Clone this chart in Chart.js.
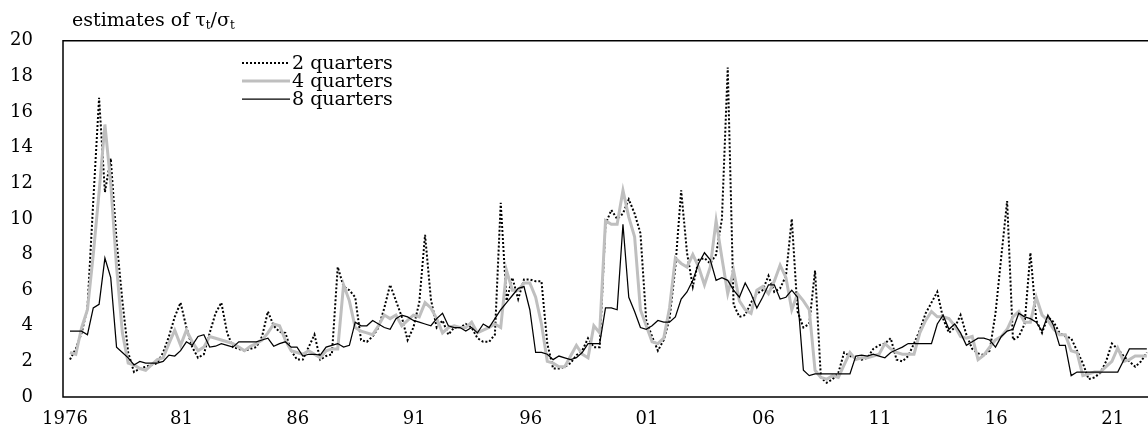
<!DOCTYPE html>
<html>
<head>
<meta charset="utf-8">
<script src="https://cdn.jsdelivr.net/npm/chart.js@4.4.1/dist/chart.umd.min.js"></script>
<style>
html, body { margin: 0; padding: 0; background: #fff; overflow: hidden; }
#wrap { width: 1148px; height: 445px; }
</style>
</head>
<body>
<div id="wrap"><canvas id="myChart" width="1148" height="445"></canvas></div>
<script>
// quarterly observations, 1976Q1 onwards
var firstYear = 1976;
var tickLabels = ['1976', '81', '86', '91', '96', '01', '06', '11', '16', '21'];
var seriesNames = ['2 quarters', '4 quarters', '8 quarters'];

var twoQuarters = [
    2.1, 2.7, 3.6, 5.0, 11.0, 16.8, 11.5, 13.4, 8.8, 5.4,
    2.5, 1.4, 1.6, 1.7, 1.8, 1.9, 2.5, 3.4, 4.5, 5.3,
    3.9, 2.8, 2.2, 2.4, 3.6, 4.7, 5.3, 3.6, 2.8, 2.7,
    2.6, 2.7, 2.8, 3.4, 4.8, 4.0, 3.65, 3.6, 2.6, 2.1,
    2.1, 2.8, 3.5, 2.1, 2.3, 2.4, 7.3, 6.2, 6.0, 5.6,
    3.2, 3.1, 3.4, 3.9, 5.0, 6.3, 5.4, 4.5, 3.2, 3.9,
    5.3, 9.1, 5.5, 3.9, 4.3, 3.5, 3.9, 3.9, 4.1, 3.9,
    3.3, 3.1, 3.1, 3.5, 10.9, 5.4, 6.7, 5.5, 6.6, 6.6,
    6.5, 6.5, 3.0, 1.6, 1.6, 1.7, 1.9, 2.35, 2.6, 3.3,
    2.8, 2.8, 9.7, 10.5, 10.0, 10.3, 11.1, 10.3, 9.2, 4.3,
    3.4, 2.6, 3.2, 4.4, 7.3, 11.6, 8.1, 6.2, 7.7, 7.8,
    7.5, 8.0, 10.0, 18.5, 5.2, 4.5, 4.6, 5.3, 5.8, 6.0,
    6.8, 5.9, 6.1, 6.8, 10.0, 4.8, 3.9, 4.1, 7.1, 1.1,
    0.8, 1.0, 1.35, 2.5, 2.3, 2.2, 2.1, 2.2, 2.7, 2.9,
    3.0, 3.3, 2.1, 2.0, 2.3, 3.0, 3.75, 4.7, 5.3, 5.9,
    4.4, 3.6, 3.9, 4.6, 3.5, 2.7, 2.45, 2.35, 2.6, 4.7,
    7.9, 11.0, 3.2, 3.4, 4.1, 8.1, 4.3, 3.6, 4.5, 4.2,
    3.6, 3.4, 3.3, 2.6, 1.9, 1.0, 1.1, 1.35, 2.0, 3.0,
    2.7, 2.3, 2.0, 1.7, 2.0, 2.5
];

var fourQuarters = [
    2.5, 2.4, 3.9, 4.9, 8.0, 11.5, 15.3, 12.0, 7.3, 3.6,
    1.9, 1.8, 1.6, 1.5, 1.8, 2.1, 2.2, 3.0, 3.75, 2.9,
    3.75, 3.1, 2.6, 2.8, 3.4, 3.3, 3.2, 3.1, 3.0, 2.8,
    2.6, 2.85, 3.0, 3.2, 3.6, 4.1, 4.0, 3.2, 2.6, 2.5,
    2.4, 2.6, 2.4, 2.2, 2.6, 2.7, 2.7, 6.3, 5.4, 3.9,
    3.7, 3.6, 3.5, 4.0, 4.6, 4.4, 4.6, 4.0, 4.3, 4.6,
    4.5, 5.3, 5.0, 4.4, 3.6, 3.9, 4.0, 3.9, 3.9, 4.2,
    3.6, 3.75, 3.9, 4.1, 3.9, 7.1, 6.0, 6.0, 6.4, 6.4,
    5.6, 4.1, 2.0, 1.9, 1.7, 1.7, 2.3, 2.9, 2.4, 2.2,
    4.0, 3.6, 9.9, 9.7, 9.7, 11.6, 10.1, 9.0, 4.9, 4.0,
    3.1, 3.0, 3.3, 5.0, 7.8, 7.5, 7.3, 8.0, 7.3, 6.3,
    7.3, 9.9, 7.8, 5.8, 7.1, 5.4, 4.9, 4.7, 6.0, 6.2,
    5.8, 6.5, 7.4, 6.7, 4.9, 5.8, 5.4, 4.9, 1.5, 1.1,
    1.0, 1.2, 1.1, 1.8, 2.5, 2.1, 2.2, 2.2, 2.3, 2.4,
    3.0, 2.7, 2.5, 2.4, 2.4, 2.4, 3.6, 4.3, 4.8, 4.5,
    4.5, 4.4, 4.0, 3.4, 3.3, 3.4, 2.1, 2.35, 2.8, 3.2,
    3.4, 3.8, 4.5, 4.8, 4.2, 4.2, 5.6, 4.6, 4.3, 3.8,
    3.5, 3.5, 2.6, 2.5, 1.2, 1.3, 1.4, 1.4, 1.7, 2.0,
    2.75, 2.0, 2.1, 2.3, 2.3, 2.3
];

var eightQuarters = [
    3.7, 3.7, 3.7, 3.5, 5.0, 5.2, 7.8, 6.7, 2.8, 2.5,
    2.2, 1.8, 2.0, 1.9, 1.9, 1.9, 2.0, 2.35, 2.3, 2.6,
    3.1, 2.9, 3.4, 3.5, 2.8, 2.85, 3.0, 2.9, 2.8, 3.1,
    3.1, 3.1, 3.1, 3.2, 3.3, 2.85, 3.0, 3.1, 2.8, 2.8,
    2.3, 2.4, 2.4, 2.35, 2.8, 2.9, 3.0, 2.8, 2.9, 4.2,
    4.0, 4.0, 4.3, 4.1, 3.9, 3.8, 4.4, 4.6, 4.5, 4.3,
    4.2, 4.1, 4.0, 4.4, 4.7, 4.0, 3.9, 3.9, 3.7, 3.9,
    3.6, 4.1, 3.9, 4.4, 4.9, 5.3, 5.7, 6.1, 6.2, 4.9,
    2.5, 2.5, 2.4, 2.1, 2.3, 2.2, 2.1, 2.2, 2.5, 3.0,
    3.0, 3.0, 5.0, 5.0, 4.9, 9.7, 5.6, 4.8, 3.9, 3.8,
    4.0, 4.3, 4.2, 4.2, 4.5, 5.5, 5.9, 6.55, 7.5, 8.1,
    7.7, 6.55, 6.7, 6.55, 6.0, 5.6, 6.4, 5.8, 5.0, 5.6,
    6.3, 6.3, 5.5, 5.6, 6.0, 5.6, 1.5, 1.2, 1.3, 1.3,
    1.3, 1.3, 1.3, 1.3, 1.3, 2.3, 2.35, 2.3, 2.4, 2.3,
    2.2, 2.5, 2.65, 2.8, 3.0, 3.0, 3.0, 3.0, 3.0, 4.1,
    4.6, 3.8, 4.1, 3.6, 2.9, 3.1, 3.3, 3.3, 3.2, 2.8,
    3.4, 3.7, 3.8, 4.7, 4.5, 4.4, 4.2, 3.7, 4.6, 4.0,
    2.9, 2.9, 1.2, 1.4, 1.4, 1.4, 1.4, 1.4, 1.4, 1.4,
    1.4, 2.05, 2.7, 2.7, 2.7, 2.7
];

var serif = "'DejaVu Serif', 'Liberation Serif', serif";

// quarter index of every tick label (Q1 of the labelled year)
var tickIndex = tickLabels.map(function(t) {
    var yr = t.length === 4 ? +t : (+t < 50 ? 2000 + +t : 1900 + +t);
    return (yr - firstYear) * 4;
});

function toPoints(arr) {
    return arr.map(function(v, i) { return { x: i, y: v }; });
}

var framePlugin = {
    id: 'frame',
    afterDraw: function(chart) {
        var c = chart.ctx, a = chart.chartArea;
        c.save();
        c.strokeStyle = '#000';
        c.lineWidth = 1.5;
        c.beginPath();
        c.moveTo(chart.width + 2, a.top);
        c.lineTo(a.left, a.top);
        c.lineTo(a.left, a.bottom);
        c.lineTo(chart.width + 2, a.bottom);
        c.stroke();

        // title with subscripts
        c.fillStyle = '#000';
        c.textBaseline = 'alphabetic';
        var x = 72, y = 26;
        var big = '19px ' + serif, small = '12px ' + serif;
        var parts = [['estimates of \u03c4', big, 0], ['t', small, 3], ['/\u03c3', big, 0], ['t', small, 3]];
        parts.forEach(function(p) {
            c.font = p[1];
            c.fillText(p[0], x, y + p[2]);
            x += c.measureText(p[0]).width;
        });

        // legend inside the plot
        var rows = [63, 81, 99];
        chart.data.datasets.forEach(function(ds, k) {
            var ly = rows[k];
            c.save();
            c.strokeStyle = ds.borderColor;
            c.lineWidth = ds.borderWidth;
            c.setLineDash(ds.borderDash || []);
            c.beginPath();
            c.moveTo(242, ly);
            c.lineTo(290, ly);
            c.stroke();
            c.restore();
            c.font = '19px ' + serif;
            c.textBaseline = 'middle';
            c.fillText(ds.label, 292, ly + 1);
        });
        c.restore();
    }
};

var ctx = document.getElementById('myChart').getContext('2d');
var myChart = new Chart(ctx, {
    type: 'line',
    data: {
        datasets: [{
            label: seriesNames[0],
            data: toPoints(twoQuarters),
            borderColor: '#000000',
            borderWidth: 2,
            borderDash: [2, 2],
            order: 3
        }, {
            label: seriesNames[1],
            data: toPoints(fourQuarters),
            borderColor: '#bfbfbf',
            borderWidth: 3,
            order: 2
        }, {
            label: seriesNames[2],
            data: toPoints(eightQuarters),
            borderColor: '#000000',
            borderWidth: 1.25,
            order: 1
        }]
    },
    options: {
        responsive: false,
        animation: false,
        layout: { padding: { top: 40, right: 0, left: 0, bottom: 0 } },
        elements: {
            point: { radius: 0 },
            line: { tension: 0, borderJoinStyle: 'miter' }
        },
        plugins: {
            legend: { display: false },
            tooltip: { enabled: false },
            title: { display: false }
        },
        scales: {
            x: {
                type: 'linear',
                min: -1.2,
                max: 185.2,
                grid: { display: false, drawTicks: false },
                border: { display: false },
                afterFit: function(scale) { scale.height = 48; },
                afterBuildTicks: function(scale) {
                    scale.ticks = tickIndex.map(function(v) { return { value: v }; });
                },
                ticks: {
                    autoSkip: false,
                    maxRotation: 0,
                    padding: 12,
                    labelOffset: -5,
                    color: '#000',
                    font: { family: serif, size: 18 },
                    callback: function(value) {
                        return tickLabels[tickIndex.indexOf(value)];
                    }
                }
            },
            y: {
                min: 0,
                max: 20,
                grid: { display: false, drawTicks: false },
                border: { display: false },
                afterFit: function(scale) { scale.width = 63; },
                ticks: {
                    stepSize: 2,
                    padding: 30,
                    color: '#000',
                    font: { family: serif, size: 18 }
                }
            }
        }
    },
    plugins: [framePlugin]
});
</script>
</body>
</html>
